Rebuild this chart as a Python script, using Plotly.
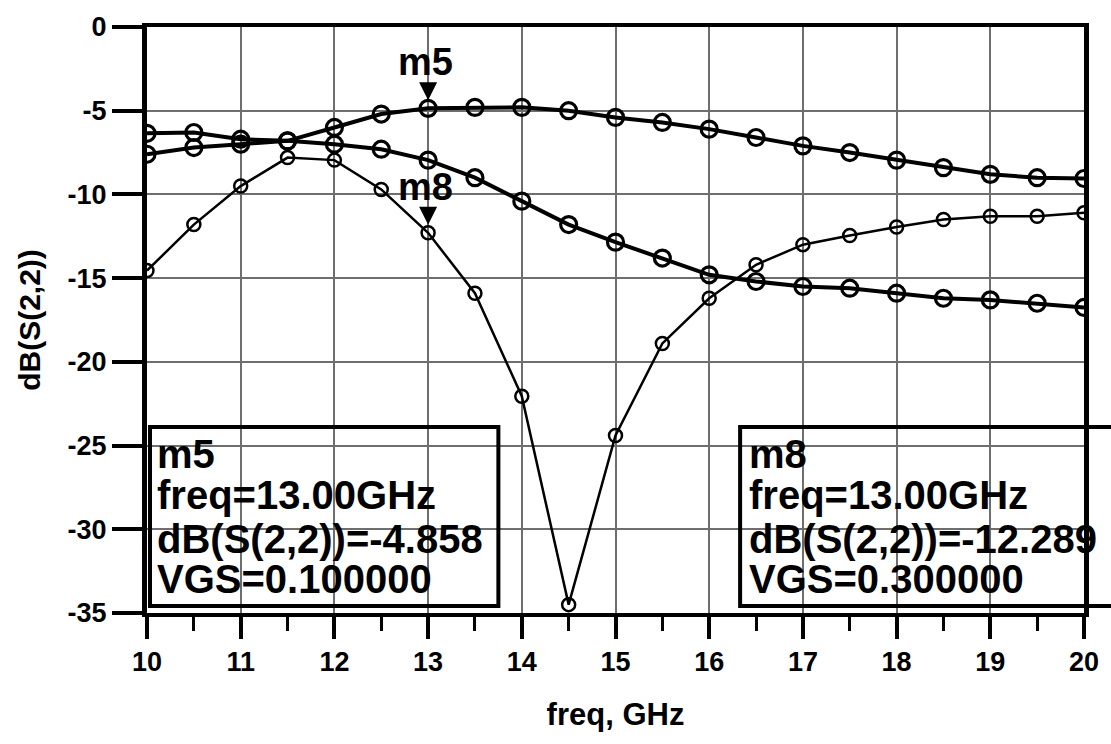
import plotly.graph_objects as go

# ---------------- data ----------------
freq = [10, 10.5, 11, 11.5, 12, 12.5, 13, 13.5, 14, 14.5, 15,
        15.5, 16, 16.5, 17, 17.5, 18, 18.5, 19, 19.5, 20]

db_vgs01 = [-7.6, -7.2, -7.0, -6.8, -6.0, -5.2, -4.858, -4.8, -4.8, -5.0, -5.4,
            -5.7, -6.1, -6.6, -7.1, -7.5, -7.95, -8.4, -8.8, -9.0, -9.05]

db_vgs02 = [-6.35, -6.3, -6.7, -6.8, -7.0, -7.3, -7.95, -9.0, -10.4, -11.8, -12.85,
            -13.8, -14.8, -15.2, -15.5, -15.6, -15.9, -16.2, -16.3, -16.5, -16.75]

db_vgs03 = [-14.55, -11.8, -9.5, -7.8, -7.95, -9.7, -12.289, -15.9, -22.05, -34.5, -24.4,
            -18.9, -16.2, -14.2, -13.0, -12.45, -11.95, -11.5, -11.3, -11.3, -11.1]

marker_names = ["m5", "m8"]
marker_freq = [13.0, 13.0]
marker_db = [-4.858, -12.289]
marker_vgs = ["0.100000", "0.300000"]

x_ticks = [10, 11, 12, 13, 14, 15, 16, 17, 18, 19, 20]
y_ticks = [0, -5, -10, -15, -20, -25, -30, -35]

FONT = "Liberation Sans, Arial, sans-serif"

fig = go.Figure()

# thick curves
for ys in (db_vgs01, db_vgs02):
    fig.add_trace(go.Scatter(
        x=freq, y=ys, mode="lines+markers",
        line=dict(color="black", width=4),
        marker=dict(symbol="circle-open", size=16, color="black",
                    line=dict(color="black", width=3.2)),
        showlegend=False, hoverinfo="skip"))

# thin notch curve
fig.add_trace(go.Scatter(
    x=freq, y=db_vgs03, mode="lines+markers",
    line=dict(color="black", width=2.5),
    marker=dict(symbol="circle-open", size=13, color="black",
                line=dict(color="black", width=2.5)),
    showlegend=False, hoverinfo="skip"))

annotations = []
# marker triangles and labels
for name, fx, fy in zip(marker_names, marker_freq, marker_db):
    annotations.append(dict(
        x=fx, y=fy, xref="x", yref="y", text="", showarrow=True,
        ax=0, ay=-24, arrowhead=2, arrowsize=1.5, arrowwidth=2.4,
        arrowcolor="black", standoff=8))
    annotations.append(dict(
        x=fx, y=fy, xref="x", yref="y", text=name, showarrow=False,
        xanchor="center", yanchor="middle", xshift=-3, yshift=46,
        font=dict(family=FONT, size=38, color="black", weight="bold")))

# marker readout boxes (paper coords)
box_x0 = [0.0032, 0.633]
box_x1 = [0.375, 1.04]
text_x = [0.0085, 0.640]
line_y = [0.2706, 0.2017, 0.1269, 0.0588]
shapes = []
for i in range(2):
    shapes.append(dict(type="rect", xref="paper", yref="paper",
                       x0=box_x0[i], x1=box_x1[i], y0=0.0118, y1=0.3176,
                       line=dict(color="black", width=4), fillcolor="rgba(0,0,0,0)",
                       layer="above"))
    lines = [marker_names[i],
             "freq=%.2fGHz" % marker_freq[i],
             "dB(S(2,2))=%s" % (("%.3f" % marker_db[i])),
             "VGS=%s" % marker_vgs[i]]
    for t, yy in zip(lines, line_y):
        annotations.append(dict(
            x=text_x[i], y=yy, xref="paper", yref="paper", text=t,
            showarrow=False, xanchor="left", yanchor="middle",
            font=dict(family=FONT, size=40, color="black", weight="bold")))

fig.update_layout(
    width=1111, height=744,
    margin=dict(l=147, r=22, t=18, b=131, pad=0),
    paper_bgcolor="white", plot_bgcolor="white",
    shapes=shapes, annotations=annotations,
    xaxis=dict(
        range=[10, 20], tickvals=x_ticks, ticktext=[str(v) for v in x_ticks],
        showgrid=True, gridcolor="#6e6e6e", gridwidth=2,
        showline=True, linecolor="black", linewidth=4, mirror=True,
        ticks="outside", ticklen=22, tickwidth=4, tickcolor="black",
        minor=dict(dtick=0.5, ticks="outside", ticklen=14, tickwidth=3,
                   tickcolor="black", showgrid=False),
        tickfont=dict(family=FONT, size=27, color="black", weight="bold"),
        title=dict(text="freq, GHz", standoff=28,
                   font=dict(family=FONT, size=31, color="black", weight="bold")),
        zeroline=False),
    yaxis=dict(
        range=[-35, 0], tickvals=y_ticks, ticktext=[str(v) for v in y_ticks],
        showgrid=True, gridcolor="#6e6e6e", gridwidth=2,
        showline=True, linecolor="black", linewidth=5, mirror=True,
        ticks="outside", ticklen=30, tickwidth=4, tickcolor="black",
        tickfont=dict(family=FONT, size=27, color="black", weight="bold"),
        title=dict(text="dB(S(2,2))", standoff=20,
                   font=dict(family=FONT, size=30, color="black", weight="bold")),
        zeroline=False),
)

fig.write_html("out.html")
